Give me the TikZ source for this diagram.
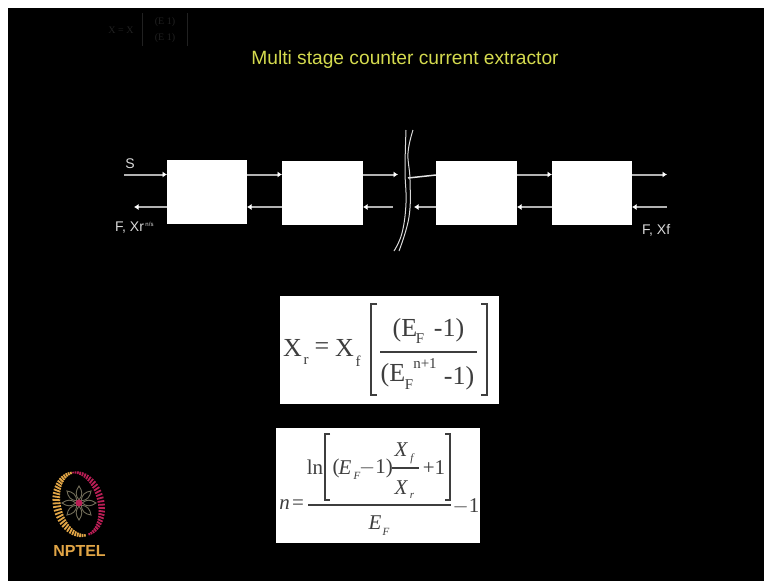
\documentclass[tikz,border=0pt]{standalone}
\usepackage{fontspec}
\setmainfont{Liberation Sans}
\newfontfamily\eqfont{Liberation Serif}
\usetikzlibrary{arrows.meta,calc}
\definecolor{titlecol}{RGB}{212,218,78}
\definecolor{nptelgold}{RGB}{225,165,70}
\definecolor{nptelred}{RGB}{185,30,85}
\definecolor{nptelgrey}{RGB}{115,110,90}
\definecolor{inkcol}{RGB}{62,62,62}
\tikzset{
  x=1pt,y=-1pt,
  stagebox/.style={draw=none,fill=white,minimum width=81pt,minimum height=64pt,inner sep=0pt,outer sep=0pt},
  eqbox/.style={draw=none,fill=white,inner sep=0pt,outer sep=0pt},
  flow/.style={draw=white!70!black,line width=2pt,-{Latex[length=4.5pt,width=6pt,color=white]}},
  brk/.style={draw=white!85!black,line width=1pt},
  lab/.style={text=white!85!black,font=\fontsize{14}{16}\selectfont,inner sep=0pt},
  ghost/.style={text=white!13!black,inner sep=0pt,font=\eqfont\fontsize{10}{10}\selectfont},
  eqa/.style={text=inkcol,inner sep=0pt,font=\eqfont\fontsize{26}{28}\selectfont},
  eqasub/.style={text=inkcol,inner sep=0pt,font=\eqfont\fontsize{15}{16}\selectfont},
  eqb/.style={text=inkcol,inner sep=0pt,font=\eqfont\fontsize{21}{23}\selectfont},
  eqbit/.style={text=inkcol,inner sep=0pt,font=\eqfont\itshape\fontsize{21}{23}\selectfont},
  eqbsub/.style={text=inkcol,inner sep=0pt,font=\eqfont\itshape\fontsize{11}{12}\selectfont},
  rule/.style={draw=inkcol,line width=1.4pt},
}
\begin{document}
\begin{tikzpicture}
\useasboundingbox (0,0) rectangle (764,581);
\fill[white] (0,0) rectangle (764,581);
\fill[black] (8,8) rectangle (764,581);
\node[text=titlecol,font=\fontsize{19.2}{21}\selectfont,inner sep=0pt] (title) at (405,60) {Multi stage counter current extractor};
% faint ghost formula
\node[ghost] (g1) at (121,30) {X = X};
\node[ghost] (g2) at (165,22) {(E   1)};
\node[ghost] (g3) at (165,38) {(E   1)};
\draw[white!13!black,line width=0.8pt] (142,13) -- (142,46) (187,13) -- (187,46);
% stages
\node[stagebox,anchor=north west,minimum width=80pt] (s1) at (167,160) {};
\node[stagebox,anchor=north west] (s2) at (282,161) {};
\node[stagebox,anchor=north west] (s3) at (436,161) {};
\node[stagebox,anchor=north west,minimum width=80pt] (s4) at (552,161) {};
% free ends
\coordinate (inS) at (124,174.5);
\coordinate (outF) at (134,207);
\coordinate (o2) at (398,174.5);
\coordinate (r2s) at (393,207);
\coordinate (br) at (408,178);
\coordinate (r3e) at (414,207);
\coordinate (o4) at (667,174.5);
\coordinate (r4s) at (667,207);
% forward
\draw[flow] (inS) -- (inS -| s1.west);
\draw[flow] (s1.east |- inS) -- (s2.west |- inS);
\draw[flow] (s2.east |- inS) -- (o2);
\draw[white!90!black,line width=1.5pt] (br) -- ($(s3.north west)+(0,14)$);
\draw[flow] (s3.east |- inS) -- (s4.west |- inS);
\draw[flow] (s4.east |- inS) -- (o4);
% back
\draw[flow] (s1.west |- outF) -- (outF);
\draw[flow] (s2.west |- outF) -- (s1.east |- outF);
\draw[flow] (r2s) -- (s2.east |- outF);
\draw[flow] (s3.west |- outF) -- (r3e);
\draw[flow] (s4.west |- outF) -- (s3.east |- outF);
\draw[flow] (r4s) -- (s4.east |- outF);
% break marks
\draw[brk] plot[smooth,tension=0.7] coordinates {(406,130) (405,170) (406,203) (402,233) (394,251)};
\draw[brk] plot[smooth,tension=0.7] coordinates {(413,130) (408,153) (410,180) (409,217) (399,251)};
% labels
\node[lab] (labS) at (130,164) {S};
\node[lab,anchor=west] (labF) at (115,228) {F, Xr};
\node[text=white!85!black,inner sep=0pt,font=\fontsize{6}{6}\selectfont] (labFs) at (149.5,224.5) {n/s};
\node[lab,anchor=west] (labXf) at (642,230) {F, Xf};
% equation 1
\node[eqbox,minimum width=219pt,minimum height=108pt] (eq1) at (389.5,350) {};
\node[eqa,anchor=west] (a1) at (283,348) {X};
\node[eqasub] (a1s) at (306,361) {r};
\node[eqa] (a2) at (322,349) {=};
\node[eqa,anchor=west] (a3) at (335,348) {X};
\node[eqasub] (a3s) at (358,361) {f};
\draw[rule] (377,304) -- (371,304) -- (371,395) -- (377,395);
\draw[rule] (481,304) -- (487,304) -- (487,395) -- (481,395);
\draw[rule] (380,352) -- (477,352);
\node[eqa] (n1) at (405,330) {(E};
\node[eqasub] (n1s) at (420,339) {F};
\node[eqa] (n2) at (449,330) {-1)};
\node[eqa] (d1) at (393,375) {(E};
\node[eqasub] (d1s) at (409,385) {F};
\node[eqasub] (d1p) at (425,364) {n+1};
\node[eqa] (d2) at (459,378) {-1)};
% equation 2
\node[eqbox,minimum width=204pt,minimum height=115pt] (eq2) at (378,485.5) {};
\node[eqbit] (b1) at (284.5,505) {n};
\node[eqb] (b2) at (298,505) {=};
\draw[rule] (308,505) -- (451,505);
\node[eqb] (b3) at (315,467) {ln};
\draw[rule] (330,434) -- (325,434) -- (325,500) -- (330,500);
\draw[rule] (445,434) -- (450,434) -- (450,500) -- (445,500);
\node[eqb] (b4) at (336,468) {(};
\node[eqbit] (b5) at (345,468) {E};
\node[eqbsub] (b5s) at (357,476) {F};
\node[eqb] (b6) at (376,468) {$-$1)};
\draw[draw=inkcol,line width=1.1pt] (392,468) -- (419,468);
\node[eqbit] (b7) at (401,450) {X};
\node[eqbsub] (b7s) at (412,459) {f};
\node[eqbit] (b8) at (401,488) {X};
\node[eqbsub] (b8s) at (412,496) {r};
\node[eqb] (b9) at (434,468) {+1};
\node[eqbit] (b10) at (375,523) {E};
\node[eqbsub] (b10s) at (386,532) {F};
\node[eqb] (b11) at (466,506) {$-$1};
% logo
\begin{scope}[shift={(79,504)},rotate=14]
\foreach \a in {95,101,...,270} {
  \pgfmathsetmacro{\wd}{1.2+2.8*sin((\a-95)*1.0286)}
  \draw[nptelgold,line width=1.8pt] ({(22-\wd)*cos(\a)},{(32-\wd)*sin(\a)}) -- ({(22+\wd)*cos(\a)},{(32+\wd)*sin(\a)});
}
\foreach \a in {-85,-79,...,88} {
  \pgfmathsetmacro{\wd}{0.8+2.6*sin((\a+85)*1.04)}
  \draw[nptelred,line width=1.8pt] ({(22-\wd)*cos(\a)},{(32-\wd)*sin(\a)}) -- ({(22+\wd)*cos(\a)},{(32+\wd)*sin(\a)});
}
\end{scope}
\begin{scope}[shift={(79,503)}]
\foreach \a in {0,45,...,315} \draw[nptelgrey,line width=0.9pt,rotate=\a] (3,0) .. controls (8,-4) and (12,-3.5) .. (17,0) .. controls (12,3.5) and (8,4) .. (3,0);
\fill[nptelred] (0,0) circle (3.5);
\end{scope}
\node[text=nptelgold,font=\bfseries\fontsize{16}{18}\selectfont,inner sep=0pt] (nptel) at (79.5,550.5) {NPTEL};
\end{tikzpicture}
\end{document}
